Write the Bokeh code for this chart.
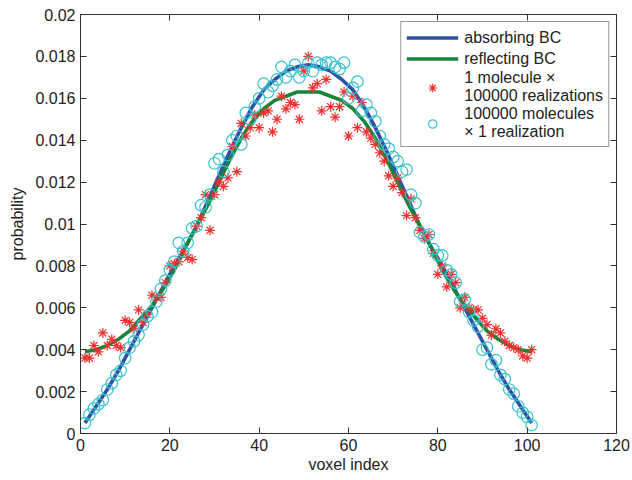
from bokeh.plotting import figure
from bokeh.models import (Range1d, FixedTicker, CustomJSTickFormatter, LinearAxis,
                          Legend, LegendItem, ColumnDataSource)
from bokeh.embed import file_html
from bokeh.resources import INLINE

# ---------------- data ----------------
curve_x = [1, 3.5, 6, 8.5, 11, 13.5, 16, 18.5, 21, 23.5, 26, 28.5, 31, 33.5, 36, 38.5, 41, 43.5, 46, 48.5,
           51, 53.5, 56, 58.5, 61, 63.5, 66, 68.5, 71, 73.5, 76, 78.5, 81, 83.5, 86, 88.5, 91, 93.5, 96,
           98.5, 101]
absorbing = [0.0005, 0.0013, 0.0021, 0.0030, 0.0040, 0.0050, 0.0060, 0.0070, 0.0080, 0.0089, 0.0099,
             0.0111, 0.0123, 0.0135, 0.0146, 0.0156, 0.0164, 0.0169, 0.0173, 0.0175, 0.0176,
             0.0175, 0.0173, 0.0169, 0.0164, 0.0156, 0.0146, 0.0135, 0.0123, 0.0111, 0.0099,
             0.0089, 0.0080, 0.0070, 0.0060, 0.0050, 0.0040, 0.0030, 0.0021, 0.0013, 0.0005]
reflecting = [0.0039, 0.0040, 0.0042, 0.0045, 0.0049, 0.0055, 0.0061, 0.0069, 0.0078, 0.0089, 0.0099,
              0.0109, 0.0120, 0.0131, 0.0141, 0.0149, 0.0155, 0.0159, 0.0161, 0.0163, 0.0163,
              0.0163, 0.0161, 0.0159, 0.0155, 0.0149, 0.0141, 0.0131, 0.0120, 0.0109, 0.0099,
              0.0089, 0.0078, 0.0069, 0.0061, 0.0055, 0.0049, 0.0045, 0.0042, 0.0040, 0.0039]

voxel = list(range(1, 102))
one_molecule = [
    0.0036, 0.0036, 0.0042, 0.0039, 0.0048, 0.0042, 0.0045, 0.0042, 0.0041, 0.0054,
    0.0053, 0.0050, 0.0059, 0.0053, 0.0057, 0.0066, 0.0065, 0.0065, 0.0072, 0.0080,
    0.0081, 0.0082, 0.0087, 0.0084, 0.0083, 0.0099, 0.0103, 0.0114, 0.0097, 0.0114,
    0.0120, 0.0118, 0.0122, 0.0137, 0.0125, 0.0148, 0.0142, 0.0146, 0.0152, 0.0146,
    0.0153, 0.0154, 0.0144, 0.0150, 0.0161, 0.0155, 0.0158, 0.0157, 0.0150, 0.0173,
    0.0180, 0.0165, 0.0167, 0.0154, 0.0169, 0.0156, 0.0151, 0.0156, 0.0163, 0.0142,
    0.0161, 0.0146, 0.0158, 0.0144, 0.0141, 0.0138, 0.0134, 0.0130, 0.0123, 0.0118,
    0.0122, 0.0115, 0.0104, 0.0112, 0.0103, 0.0097, 0.0093, 0.0095, 0.0086, 0.0076,
    0.0080, 0.0070, 0.0076, 0.0072, 0.0060, 0.0065, 0.0060, 0.0059, 0.0059, 0.0055,
    0.0052, 0.0047, 0.0050, 0.0048, 0.0044, 0.0042, 0.0041, 0.0040, 0.0037, 0.0036,
    0.0040]
many_molecules = [
    0.0005, 0.0009, 0.0012, 0.0014, 0.0016, 0.0021, 0.0024, 0.0028, 0.0030, 0.0036,
    0.0041, 0.0044, 0.0047, 0.0052, 0.0056, 0.0058, 0.0063, 0.0069, 0.0073, 0.0078,
    0.0082, 0.0091, 0.0087, 0.0091, 0.0098, 0.0099, 0.0109, 0.0108, 0.0114, 0.0129,
    0.0131, 0.0125, 0.0133, 0.0140, 0.0142, 0.0138, 0.0153, 0.0150, 0.0156, 0.0160,
    0.0167, 0.0163, 0.0166, 0.0169, 0.0175, 0.0170, 0.0173, 0.0176, 0.0170, 0.0173,
    0.0177, 0.0173, 0.0177, 0.0176, 0.0177, 0.0177, 0.0175, 0.0174, 0.0177, 0.0160,
    0.0165, 0.0168, 0.0154, 0.0157, 0.0153, 0.0149, 0.0142, 0.0138, 0.0136, 0.0132,
    0.0130, 0.0125, 0.0126, 0.0114, 0.0110, 0.0096, 0.0094, 0.0095, 0.0088, 0.0085,
    0.0085, 0.0078, 0.0076, 0.0072, 0.0063, 0.0064, 0.0058, 0.0054, 0.0051, 0.0040,
    0.0041, 0.0033, 0.0035, 0.0028, 0.0026, 0.0021, 0.0019, 0.0013, 0.0010, 0.0008,
    0.0004]

x_ticks = [0, 20, 40, 60, 80, 100, 120]
y_ticks = [0, 0.002, 0.004, 0.006, 0.008, 0.01, 0.012, 0.014, 0.016, 0.018, 0.02]

FONT = "Liberation Sans"

# ---------------- figure ----------------
p = figure(width=632, height=480, output_backend="svg", toolbar_location=None,
           x_range=Range1d(0, 120), y_range=Range1d(0, 0.02),
           min_border_left=80, min_border_right=16, min_border_top=14, min_border_bottom=47,
           background_fill_color="white", border_fill_color="white")
p.xgrid.visible = False
p.ygrid.visible = False
p.outline_line_color = "#333333"
p.outline_line_width = 1

fmt = CustomJSTickFormatter(code="return String(+tick.toFixed(4));")
blank = CustomJSTickFormatter(code="return '';")

for ax in (p.xaxis[0], p.yaxis[0]):
    ax.major_tick_in = 6
    ax.major_tick_out = 0
    ax.minor_tick_line_color = None
    ax.axis_line_color = "#333333"
    ax.major_tick_line_color = "#333333"
    ax.major_label_text_font = FONT
    ax.major_label_text_font_size = "16px"
    ax.major_label_text_color = "#222222"
    ax.axis_label_text_font = FONT
    ax.axis_label_text_font_size = "16px"
    ax.axis_label_text_font_style = "normal"
    ax.axis_label_text_color = "#222222"

p.xaxis.ticker = FixedTicker(ticks=x_ticks)
p.yaxis.ticker = FixedTicker(ticks=y_ticks)
p.yaxis.formatter = fmt
p.xaxis.axis_label = "voxel index"
p.yaxis.axis_label = "probability"
p.xaxis.axis_label_standoff = 2
p.yaxis.axis_label_standoff = 6

for loc, ticks in (("right", y_ticks), ("above", x_ticks)):
    a = LinearAxis(ticker=FixedTicker(ticks=ticks), formatter=blank)
    a.major_tick_in = 6
    a.major_tick_out = 0
    a.minor_tick_line_color = None
    a.axis_line_color = "#333333"
    a.major_tick_line_color = "#333333"
    a.major_label_standoff = 0
    p.add_layout(a, loc)

src_c = ColumnDataSource(dict(x=curve_x, a=absorbing, r=reflecting))
src_p = ColumnDataSource(dict(x=voxel, s=one_molecule, c=many_molecules))

BLUE = "#3050a8"
GREEN = "#17843a"
RED = "#f0302e"
CYAN = "#35c3cc"

l_abs = p.line("x", "a", source=src_c, line_color=BLUE, line_width=3.6, line_join="round")
l_ref = p.line("x", "r", source=src_c, line_color=GREEN, line_width=3.6, line_join="round")
s_one = p.scatter("x", "s", source=src_p, marker="asterisk", size=10, line_color=RED, line_width=1.2)
s_many = p.scatter("x", "c", source=src_p, marker="circle", size=11.5, fill_color=None,
                   line_color=CYAN, line_width=1.2)

legend = Legend(items=[
    LegendItem(label="absorbing BC", renderers=[l_abs]),
    LegendItem(label="reflecting BC", renderers=[l_ref]),
    LegendItem(label="1 molecule \u00d7\n100000 realizations", renderers=[s_one]),
    LegendItem(label="100000 molecules\n\u00d7 1 realization", renderers=[s_many]),
])
legend.location = "top_right"
legend.margin = 7
legend.padding = 5
legend.spacing = 0
legend.glyph_width = 52
legend.glyph_height = 21
legend.label_height = 21
legend.label_standoff = 6
legend.label_text_font = FONT
legend.label_text_font_size = "16px"
legend.label_text_line_height = 1.3
legend.label_text_color = "#222222"
legend.border_line_color = "#333333"
legend.border_line_width = 1
legend.background_fill_color = "white"
legend.background_fill_alpha = 1
p.add_layout(legend)

open("out.html", "w").write(file_html(p, INLINE))
